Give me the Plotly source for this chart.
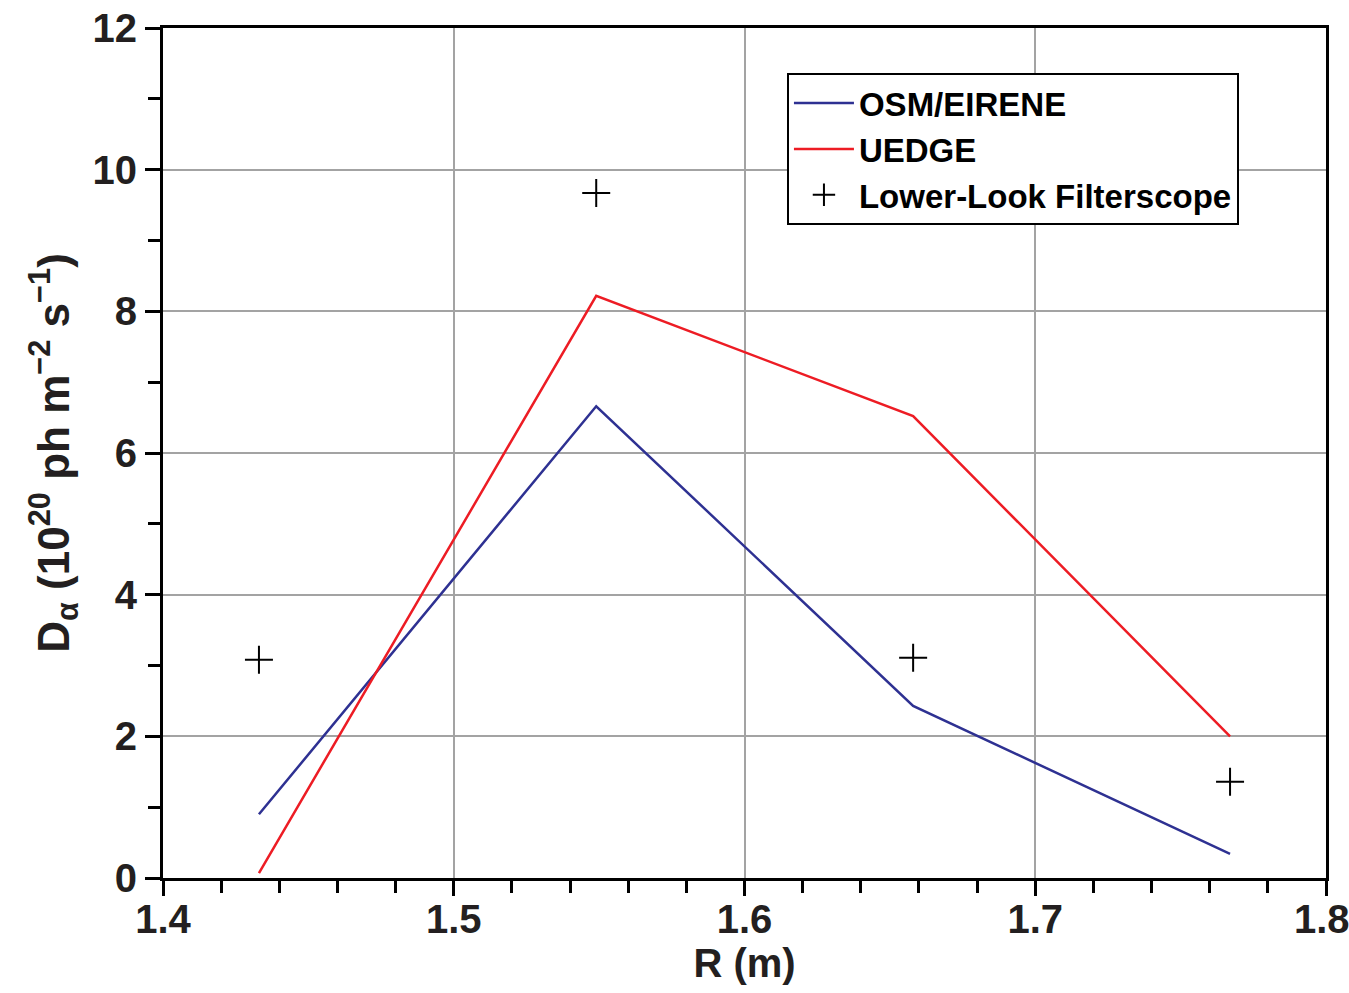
import plotly.graph_objects as go

R_pos = [1.433, 1.549, 1.658, 1.767]
osm_eirene = [0.90, 6.66, 2.43, 0.34]
uedge = [0.07, 8.22, 6.52, 2.00]
filterscope = [3.08, 9.67, 3.11, 1.36]
x_ticks = [1.4, 1.5, 1.6, 1.7, 1.8]
x_ticktext = ["1.4", "1.5", "1.6", "1.7", ""]
last_x_label = "1.8"
y_ticks = [0, 2, 4, 6, 8, 10, 12]

FONT = "Liberation Sans, Arial, sans-serif"
TXT = "#231f20"

fig = go.Figure()
fig.add_trace(go.Scatter(x=R_pos, y=osm_eirene, mode="lines", name="OSM/EIRENE",
                         line=dict(color="#2e3192", width=2.5)))
fig.add_trace(go.Scatter(x=R_pos, y=uedge, mode="lines", name="UEDGE",
                         line=dict(color="#ed1c24", width=2.5)))
fig.add_trace(go.Scatter(x=R_pos, y=filterscope, mode="markers", name="Lower-Look Filterscope",
                         marker=dict(symbol="cross-thin", size=20, color="black",
                                     line=dict(color="black", width=2))))

axis_common = dict(
    showline=True, linecolor="black", linewidth=3, mirror=True,
    ticks="outside", ticklen=15, tickwidth=3, tickcolor="black",
    showgrid=True, gridcolor="#a3a3a3", gridwidth=2,
    zeroline=False, automargin=False,
    tickfont=dict(family=FONT, size=40, color=TXT, weight="bold"),
)

fig.update_xaxes(
    range=[1.3999999, 1.8000001], tickvals=x_ticks, ticktext=x_ticktext,
    ticklabelstandoff=-11,
    minor=dict(dtick=0.02, tick0=1.4, ticks="outside", ticklen=12, tickwidth=2.5,
               tickcolor="black", showgrid=False),
    title=dict(text="R (m)", font=dict(family=FONT, size=40, color=TXT, weight="bold"),
               standoff=0),
    **axis_common,
)
fig.update_yaxes(
    range=[0, 12.00001], tickvals=y_ticks,
    minor=dict(dtick=1, ticks="outside", ticklen=12, tickwidth=2.5,
               tickcolor="black", showgrid=False),
    title=dict(text="D<sub>α</sub> (10<sup>20</sup> ph m<sup>−2</sup> s<sup>−1</sup>)",
               font=dict(family=FONT, size=44, color=TXT, weight="bold"),
               standoff=10),
    **axis_common,
)

# last x tick label placed at the axis end, nudged left so it stays inside the page
fig.add_annotation(x=x_ticks[-1], xref="x", y=0, yref="paper", text=last_x_label,
                   showarrow=False, xanchor="center", yanchor="top",
                   xshift=-4, yshift=-17,
                   font=dict(family=FONT, size=40, color=TXT, weight="bold"))

fig.update_layout(
    width=1349, height=993,
    margin=dict(l=163, r=23, t=28, b=115),
    paper_bgcolor="white", plot_bgcolor="white",
    showlegend=True,
    legend=dict(x=0.5365, y=0.947, xanchor="left", yanchor="top",
                bgcolor="white", bordercolor="black", borderwidth=2,
                font=dict(family=FONT, size=33, color="black", weight="bold"),
                tracegroupgap=0, itemwidth=60),
)

fig.write_html("out.html")
